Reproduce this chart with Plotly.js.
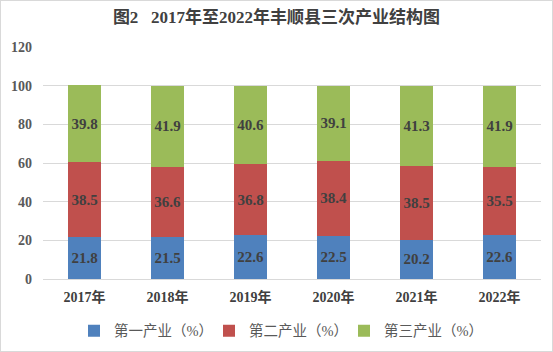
<!DOCTYPE html>
<html><head><meta charset="utf-8">
<script src="https://cdn.plot.ly/plotly-3.0.1.min.js"></script>
<style>
html,body{margin:0;padding:0;background:#fff;}
#wrap{width:551px;height:350px;border:1px solid #d9d9d9;}
#chart{width:551px;height:350px;}
</style></head>
<body><div id="wrap"><div id="chart"></div></div>
<script>
const years = ['2017年','2018年','2019年','2020年','2021年','2022年'];
const primary = [21.8, 21.5, 22.6, 22.5, 20.2, 22.6];
const secondary = [38.5, 36.6, 36.8, 38.4, 38.5, 35.5];
const tertiary = [39.8, 41.9, 40.6, 39.1, 41.3, 41.9];
const names = ['第一产业（%）','第二产业（%）','第三产业（%）'];
const colors = ['#4f81bd','#c0504d','#9bbb59'];
const serif = 'Liberation Serif, Noto Sans CJK SC, serif';
const series = [primary, secondary, tertiary];
const traces = series.map((vals, i) => ({
  type: 'bar', x: years, y: vals, name: names[i],
  marker: {color: colors[i]},
  text: vals.map(v => v.toFixed(1)), textposition: 'inside', insidetextanchor: 'middle',
  textfont: {family: serif, size: 15, color: '#404040', weight: 'bold'},
  hoverinfo: 'skip'
}));
const layout = {
  width: 551, height: 350, barmode: 'stack', bargap: 0.6,
  margin: {l: 42, r: 11, t: 46, b: 72},
  paper_bgcolor: '#fff', plot_bgcolor: '#fff',
  title: {text: '<b>图2   2017年至2022年丰顺县三次产业结构图</b>', x: 0.5, xanchor: 'center', y: 0.955, yanchor: 'middle',
    font: {family: serif, size: 17, color: '#404040'}},
  xaxis: {tickfont: {family: serif, size: 14, color: '#404040', weight: 'bold'}, showline: true, linecolor: '#d9d9d9', ticks: '', automargin: false, ticklabelstandoff: 5},
  yaxis: {range: [0, 120], dtick: 20, gridcolor: '#d9d9d9', zeroline: false, automargin: false,
    tickfont: {family: serif, size: 14, color: '#595959', weight: 'bold'}, ticks: '', ticklabelstandoff: 10},
  legend: {orientation: 'h', x: 0.5, xanchor: 'center', xref: 'container', yref: 'container', y: 0.058, yanchor: 'middle',
    font: {family: serif, size: 14.5, color: '#595959'}, traceorder: 'normal', itemwidth: 30, entrywidth: 90},
  showlegend: true
};
Plotly.newPlot('chart', traces, layout, {displayModeBar: false, staticPlot: true});
</script></body></html>
